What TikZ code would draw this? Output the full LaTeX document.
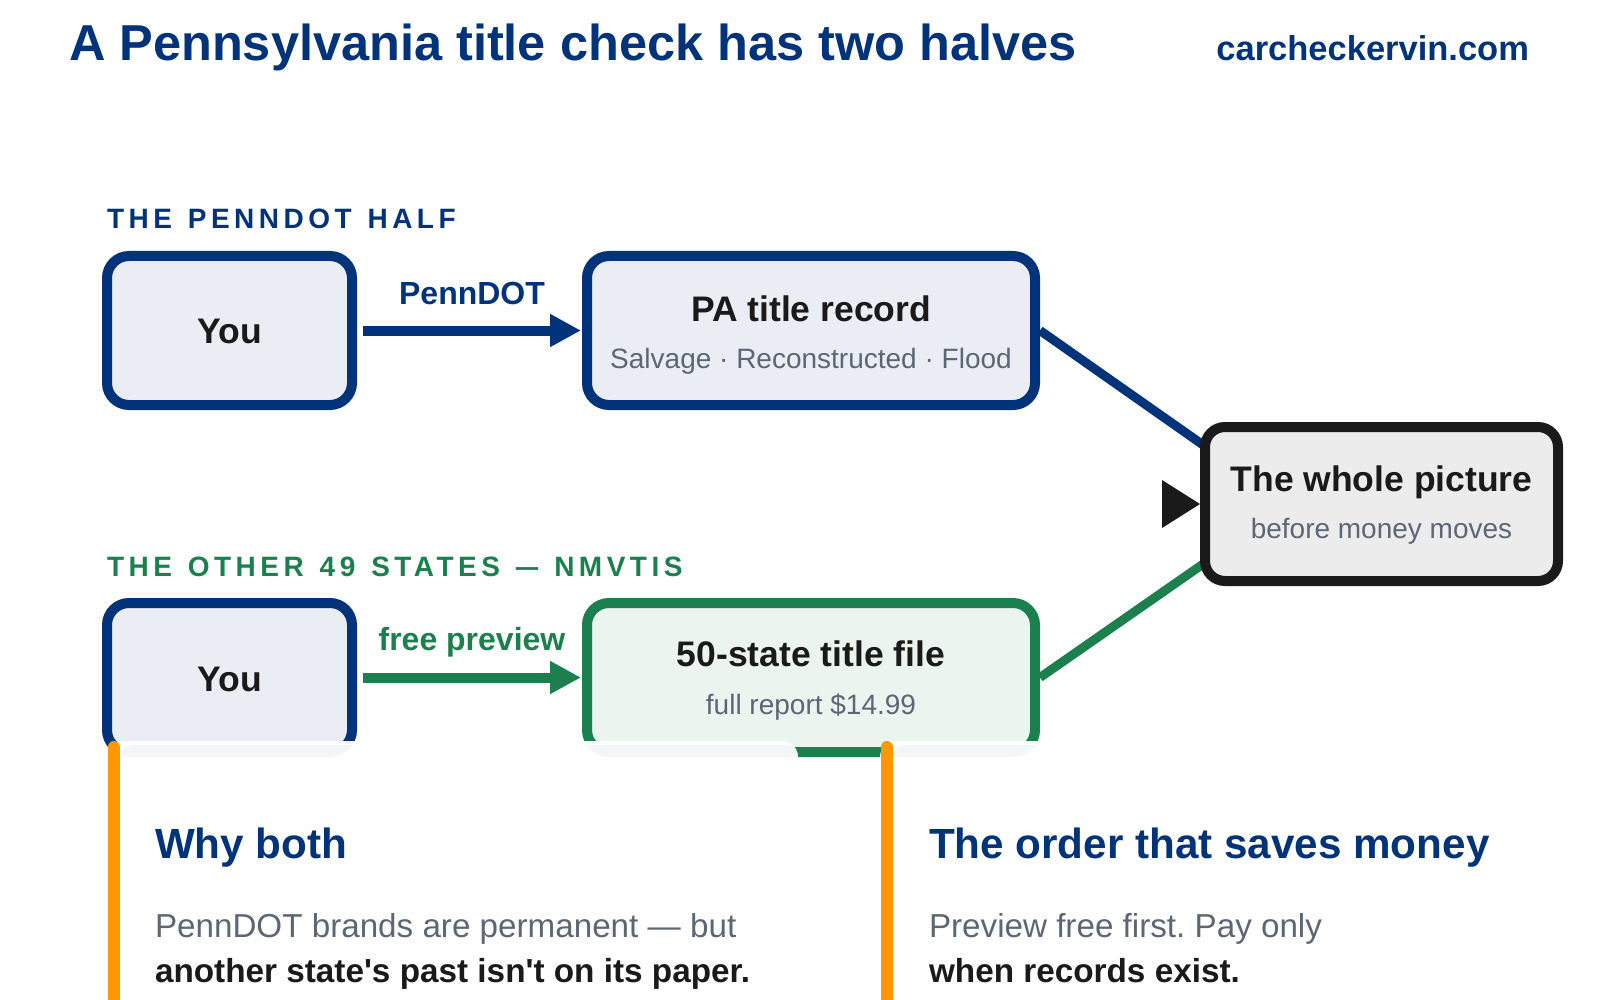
\documentclass[tikz,border=0pt]{standalone}
\usepackage{fontspec}
\setmainfont{Liberation Sans}
\newfontfamily\spacedfont[LetterSpace=16,WordSpace=1.3]{Liberation Sans}
\usetikzlibrary{arrows.meta}
\pgfdeclarelayer{background}
\pgfsetlayers{background,main}
\definecolor{navy}{RGB}{0,51,122}
\definecolor{grn}{RGB}{27,128,77}
\definecolor{ink}{RGB}{26,26,26}
\definecolor{slate}{RGB}{92,102,117}
\definecolor{bluefill}{RGB}{234,237,243}
\definecolor{greenfill}{RGB}{235,244,239}
\definecolor{grayfill}{RGB}{236,236,237}
\definecolor{orng}{RGB}{255,152,0}
\definecolor{bandfill}{RGB}{243,246,248}
\newcommand\pxsize[1]{\fontsize{#1pt}{#1pt}\selectfont}
\frenchspacing
\tikzset{
  bluebox/.style={draw=navy, fill=bluefill, line width=10pt, rounded corners=22pt, inner sep=0pt},
  greenbox/.style={draw=grn, fill=greenfill, line width=10pt, rounded corners=22pt, inner sep=0pt},
  blackbox/.style={draw=ink, fill=grayfill, line width=10pt, rounded corners=20pt, inner sep=0pt},
  txt/.style={inner sep=0pt, outer sep=0pt},
  boxtitle/.style={txt, anchor=base, text=ink, font=\bfseries\pxsize{35.5}},
  boxsub/.style={txt, anchor=base, text=slate, font=\pxsize{28}},
  edgelabel/.style={txt, anchor=base, font=\bfseries\pxsize{32}},
  section/.style={txt, anchor=base west, font=\spacedfont\bfseries\pxsize{28}},
  cardhead/.style={txt, anchor=base west, text=navy, font=\bfseries\pxsize{42.2}},
  cardbody/.style={txt, anchor=base west, text=slate, font=\pxsize{33.2}},
  cardbold/.style={txt, anchor=base west, text=ink, font=\bfseries\pxsize{33.3}},
  flowarrow/.style={line width=10pt, -{Triangle[length=31pt,width=31pt]}},
  joinline/.style={line width=9pt},
  stripe/.style={orng, line width=12pt, line cap=round}
}
\begin{document}
\begin{tikzpicture}[x=1pt,y=-1pt]
\useasboundingbox (0,0) rectangle (1600,1000);

% header
\node[txt, anchor=base west, text=navy, font=\bfseries\pxsize{50.5}] (title) at (69,61) {A Pennsylvania title check has two halves};
\node[txt, anchor=base east, text=navy, font=\bfseries\pxsize{34.5}] (url) at (1529,61) {carcheckervin.com};

% section labels
\node[section, text=navy] (sec1) at (107,229) {THE PENNDOT HALF};
\node[section, text=grn] (sec2) at (107,576) {THE OTHER 49 STATES \scalebox{0.8}[1]{—} NMVTIS};

% boxes
\node[bluebox, minimum width=245pt, minimum height=149pt] (you1) at (229.5,330.5) {};
\node[bluebox, minimum width=448pt, minimum height=149pt] (pa) at (811,330.5) {};
\node[bluebox, minimum width=245pt, minimum height=149pt] (you2) at (229.5,677.5) {};
\node[greenbox, minimum width=448pt, minimum height=149pt] (st) at (811,677.5) {};
\node[blackbox, minimum width=353pt, minimum height=154pt] (whole) at (1381.5,504) {};

% box texts
\node[boxtitle] (you1t) at (229.5,343) {You};
\node[boxtitle] (pat) at (811,321) {PA title record};
\node[boxsub] (pas) at (811,368) {Salvage · Reconstructed · Flood};
\node[boxtitle] (you2t) at (229.5,691) {You};
\node[boxtitle] (stt) at (811,666) {50-state title file};
\node[boxsub] (sts) at (811,714) {full report \$14.99};
\node[boxtitle] (wholet) at (1381.5,491) {The whole picture};
\node[boxsub] (wholes) at (1381.5,538) {before money moves};

% white page and connectors behind boxes
\coordinate (wb) at (1206,447);
\coordinate (wg) at (1206,562);
\begin{pgfonlayer}{background}
\fill[white] (0,0) rectangle (1600,1000);
\draw[joinline, navy] (pa.east) -- (wb);
\draw[joinline, grn] (st.east) -- (wg);
\end{pgfonlayer}

% arrows
\draw[flowarrow, navy] ([xshift=5.5pt]you1.east) -- ([xshift=-1pt]pa.west);
\draw[flowarrow, grn] ([xshift=5.5pt]you2.east) -- ([xshift=-1pt]st.west);
\node[edgelabel, text=navy] (lbl1) at (472,304) {PennDOT};
\node[edgelabel, text=grn] (lbl2) at (472,650) {free preview};

% arrowhead into the whole picture
\fill[ink] ([xshift=-38pt,yshift=24pt]whole.west) -- (whole.west) -- ([xshift=-38pt,yshift=-24pt]whole.west) -- cycle;

% cards
\fill[white, rounded corners=16pt] (107,741) rectangle (798,1040);
\fill[white, rounded corners=16pt] (880,741) rectangle (1640,1040);
\begin{scope}
  \clip[rounded corners=12pt] (120,745) rectangle (798,1040);
  \fill[bandfill, rounded corners=27pt] (102,598) rectangle (357,757);
  \fill[bandfill, rounded corners=27pt] (582,598) rectangle (1040,757);
\end{scope}
\begin{scope}
  \clip[rounded corners=12pt] (893,745) rectangle (1640,1040);
  \fill[bandfill, rounded corners=27pt] (582,598) rectangle (1040,757);
\end{scope}
\draw[stripe] (113.5,747) -- (113.5,1030);
\draw[stripe] (886.5,747) -- (886.5,1030);

% card texts
\node[cardhead] (h1) at (155,858) {Why both};
\node[cardbody] (b1) at (155,937) {PennDOT brands are permanent — but};
\node[cardbold] (b2) at (155,982) {another state\textquotesingle s past isn\textquotesingle t on its paper.};
\node[cardhead] (h2) at (929,858) {The order that saves money};
\node[cardbody] (b3) at (929,937) {Preview free first. Pay only};
\node[cardbold] (b4) at (929,982) {when records exist.};
\end{tikzpicture}
\end{document}
